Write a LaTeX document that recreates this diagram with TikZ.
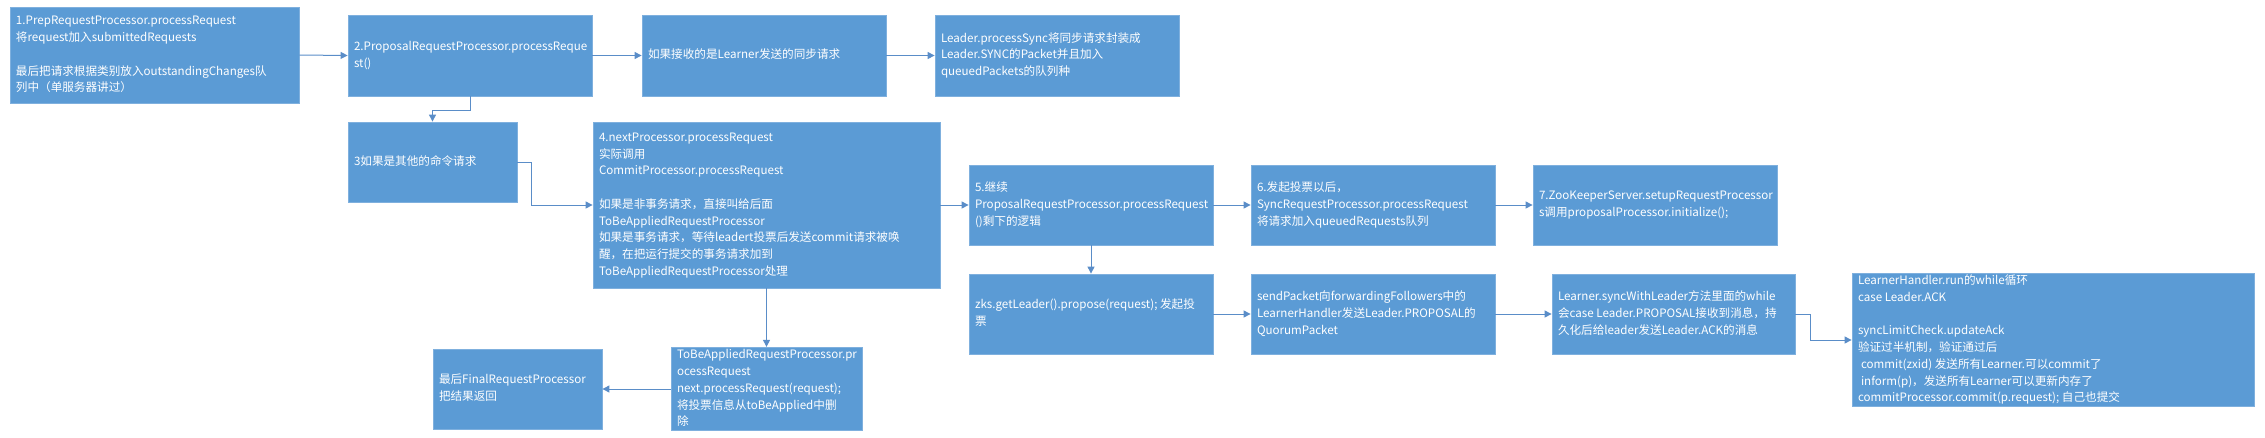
\documentclass[tikz,border=0pt]{standalone}
\usepackage{fontspec}
\setmainfont{Noto Sans CJK SC}
\usetikzlibrary{arrows.meta,calc}
\definecolor{boxfill}{HTML}{5B9BD5}
\definecolor{boxline}{HTML}{7FB0DE}
\definecolor{conn}{HTML}{5A8DC8}
\newcommand\mybox[6]{%
  \pgfmathsetmacro\myBW{#4-#2}\pgfmathsetmacro\myBH{#5-#3}%
  \pgfmathsetmacro\myTW{#4-#2-12}%
  \pgfmathsetmacro\myCX{(#2+#4)/2}\pgfmathsetmacro\myCY{(#3+#5)/2}%
  \node[bx,minimum width=\myBW pt,minimum height=\myBH pt] (#1) at (\myCX,\myCY)
    {\makebox[\myTW pt][l]{\begin{tabular}{@{}l@{}}#6\end{tabular}}};}
\begin{document}
\begin{tikzpicture}[x=1pt,y=-1pt,
  bx/.style={rectangle,fill=boxfill,draw=boxline,line width=0.8pt,text=white,
    inner xsep=6pt,inner ysep=0pt,font=\fontsize{11.6}{16.7}\selectfont},
  conn/.style={draw=conn,line width=1pt,-{Triangle[length=7pt,width=7pt]}}]
\useasboundingbox (0,0) rectangle (2265,437);
\mybox{b1}{10}{7}{299}{103}{1.PrepRequestProcessor.processRequest\\将request加入submittedRequests\\ \\最后把请求根据类别放入outstandingChanges队\\列中（单服务器讲过）}
\mybox{b2}{348}{15}{592}{96}{2.ProposalRequestProcessor.processReque\\st()}
\mybox{ru}{642}{15}{886}{96}{如果接收的是Learner发送的同步请求}
\mybox{ld}{935}{15}{1179}{96}{Leader.processSync将同步请求封装成\\Leader.SYNC的Packet并且加入\\queuedPackets的队列种}
\mybox{b3}{348}{122}{517}{202}{3如果是其他的命令请求}
\mybox{b4}{593}{122}{940}{288}{4.nextProcessor.processRequest\\实际调用\\CommitProcessor.processRequest\\ \\如果是非事务请求，直接叫给后面\\ToBeAppliedRequestProcessor\\如果是事务请求，等待leadert投票后发送commit请求被唤\\醒，在把运行提交的事务请求加到\\ToBeAppliedRequestProcessor处理}
\mybox{b5}{969}{165}{1213}{245}{5.继续\\ProposalRequestProcessor.processRequest\\()剩下的逻辑}
\mybox{b6}{1251}{165}{1495}{245}{6.发起投票以后，\\SyncRequestProcessor.processRequest\\将请求加入queuedRequests队列}
\mybox{b7}{1533}{165}{1777}{245}{7.ZooKeeperServer.setupRequestProcessor\\s调用proposalProcessor.initialize();}
\mybox{zk}{969}{274}{1213}{354}{zks.getLeader().propose(request); 发起投\\票}
\mybox{sp}{1251}{274}{1495}{354}{sendPacket向forwardingFollowers中的\\LearnerHandler发送Leader.PROPOSAL的\\QuorumPacket}
\mybox{ls}{1552}{274}{1795}{354}{Learner.syncWithLeader方法里面的while\\会case Leader.PROPOSAL接收到消息，持\\久化后给leader发送Leader.ACK的消息}
\mybox{lh}{1852}{274}{2254}{406}{LearnerHandler.run的while循环\\case Leader.ACK\\ \\syncLimitCheck.updateAck\\验证过半机制，验证通过后\\\hspace{3pt}commit(zxid) 发送所有Learner.可以commit了\\\hspace{3pt}inform(p)，发送所有Learner可以更新内存了\\commitProcessor.commit(p.request); 自己也提交}
\mybox{tb}{671}{349}{862}{429}{ToBeAppliedRequestProcessor.pr\\ocessRequest\\next.processRequest(request);\\将投票信息从toBeApplied中删\\除}
\mybox{fn}{433}{349}{602}{429}{最后FinalRequestProcessor\\把结果返回}
\draw[conn] (b1.east) -- (b2.west);
\draw[conn] (b2.east) -- (ru.west);
\draw[conn] (ru.east) -- (ld.west);
\draw[conn] (b2.south) -- ++(0,14) -| (b3.north);
\draw[conn] (b3.east) -- ++(14,0) |- (b4.west);
\draw[conn] (b4.east) -- (b5.west);
\draw[conn] (b5.east) -- (b6.west);
\draw[conn] (b6.east) -- (b7.west);
\draw[conn] (b5.south) -- (zk.north);
\draw[conn] (zk.east) -- (sp.west);
\draw[conn] (sp.east) -- (ls.west);
\draw[conn] (ls.east) -- ++(15,0) |- (lh.west);
\draw[conn] (b4.south) -- (tb.north);
\draw[conn] (tb.west) -- (fn.east);
\end{tikzpicture}
\end{document}
